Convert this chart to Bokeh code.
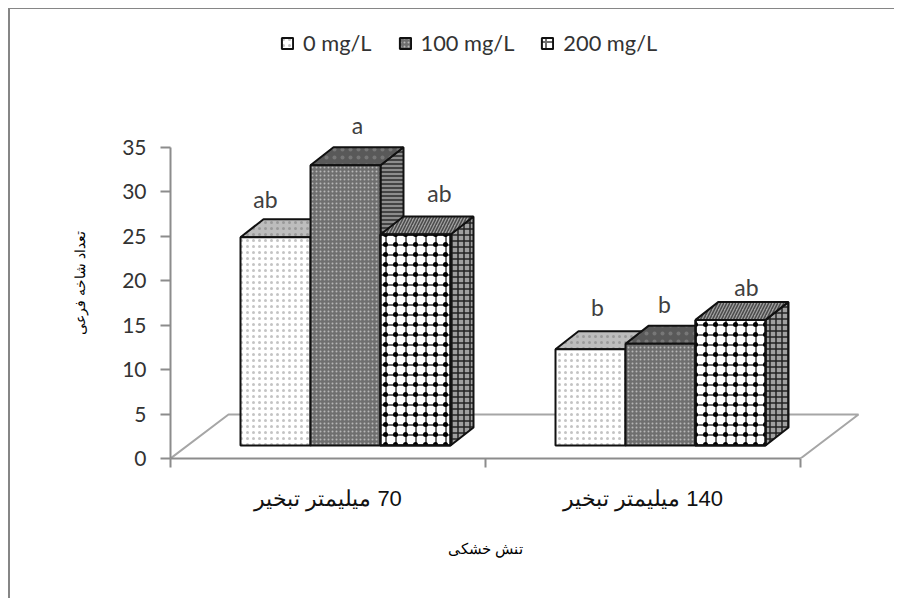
from bokeh.plotting import figure
from bokeh.models import FixedTicker, Range1d, Legend, LegendItem, Label, Title
from bokeh.embed import file_html
from bokeh.resources import INLINE

series = ["0 mg/L", "100 mg/L", "200 mg/L"]
categories = ["\u200f70 میلیمتر تبخیر", "\u200f140 میلیمتر تبخیر"]
y_ticks = [0, 5, 10, 15, 20, 25, 30, 35]
vals_0 = [24.9, 12.3]
vals_100 = [33.0, 12.9]
vals_200 = [25.2, 15.6]
letters_0 = ["ab", "b"]
letters_100 = ["a", "b"]
letters_200 = ["ab", "ab"]
x_title = "تنش خشکی"
y_title = "تعداد شاخه فرعی"

# geometry of the pseudo-3D drawing, in pixels
OX, OY = 10, 9
W, H = 886, 590
FL, FR, FT, FB = 170, 870, 28, 458
PX_X = 315.0          # pixels per category
PX_Y = 311.0 / 35.0   # pixels per y unit
DEPTH_X, DEPTH_Y = 23 / PX_X, 18 / PX_Y
FLOOR = 13 / PX_Y
BAR_W = 70 / PX_X
SHIFT = 17.5 / PX_X

p = figure(width=W, height=H, output_backend="svg", toolbar_location=None,
           x_range=Range1d(0, (FR - FL) / PX_X), y_range=Range1d(0, (FB - FT) / PX_Y),
           min_border_left=FL - OX, min_border_right=OX + W - FR,
           min_border_top=FT - OY, min_border_bottom=OY + H - FB,
           background_fill_color="white", border_fill_color="white",
           outline_line_color=None, margin=(OY, 0, 0, OX),
           styles={"box-shadow": "-2px -1px 0 #868686"})
p.grid.visible = False

AX = "#8c8c8c"
xa = p.xaxis[0]
xa.ticker = FixedTicker(ticks=[0.5, 1.5], minor_ticks=[0, 1, 2])
xa.major_label_overrides = {0.5: categories[0], 1.5: categories[1]}
xa.bounds = (0, 2)
xa.axis_line_color = AX
xa.axis_line_width = 2
xa.major_tick_line_color = None
xa.minor_tick_line_color = AX
xa.minor_tick_line_width = 2
xa.minor_tick_in = 0
xa.minor_tick_out = 9
xa.major_tick_in = 0
xa.major_tick_out = 0
xa.major_label_standoff = 18
xa.major_label_text_font = "Liberation Sans"
xa.major_label_text_font_size = "22px"
xa.major_label_text_color = "#111111"

ya = p.yaxis[0]
ya.ticker = FixedTicker(ticks=y_ticks)
ya.bounds = (0, 35)
ya.axis_line_color = AX
ya.axis_line_width = 2
ya.major_tick_line_color = AX
ya.major_tick_line_width = 2
ya.major_tick_in = 0
ya.major_tick_out = 10
ya.minor_tick_line_color = None
ya.major_label_standoff = 14
ya.major_label_text_font = "Lato"
ya.major_label_text_font_size = "21px"
ya.major_label_text_color = "#333333"

# axis titles sit off the frame's centre, so they are side titles with an offset
p.add_layout(Title(text=x_title, align="left", offset=277, standoff=48,
                   text_font="Liberation Sans", text_font_size="15px", text_color="#000000",
                   text_font_style="normal"), "below")
p.add_layout(Title(text=y_title, align="left", offset=124, standoff=63,
                   text_font="Liberation Sans", text_font_size="14px", text_color="#000000",
                   text_font_style="normal"), "left")

# floor outline
fx = [0, (228 - FL) / PX_X, (858 - FL) / PX_X, 2]
fy = [0, 44 / PX_Y, 44 / PX_Y, 0]
p.line(fx, fy, line_color="#a6a6a6", line_width=2)

front = [
    dict(fill_color="white", hatch_pattern="dot", hatch_color="#c4c4c4", hatch_scale=6, hatch_weight=1),
    dict(fill_color="#6f6f6f", hatch_pattern="dot", hatch_color="#b8b8b8", hatch_scale=4, hatch_weight=1),
    dict(fill_color="white", hatch_pattern="cross", hatch_color="#707070", hatch_scale=10, hatch_weight=2),
]
top = [
    dict(fill_color="#bdbdbd", hatch_pattern="dot", hatch_color="#9a9a9a", hatch_scale=6, hatch_weight=1),
    dict(fill_color="#595959", hatch_pattern="dot", hatch_color="#777777", hatch_scale=8, hatch_weight=1),
    dict(fill_color="#a0a0a0", hatch_pattern="right_diagonal_line", hatch_color="#4a4a4a", hatch_scale=6, hatch_weight=1.5),
]
side = [
    dict(fill_color="#8c8c8c", hatch_pattern="cross", hatch_color="#333333", hatch_scale=5, hatch_weight=1),
    dict(fill_color="#8c8c8c", hatch_pattern="horizontal_line", hatch_color="#2a2a2a", hatch_scale=4, hatch_weight=1.5),
    dict(fill_color="#a0a0a0", hatch_pattern="cross", hatch_color="#222222", hatch_scale=6, hatch_weight=1.5),
]
values = [vals_0, vals_100, vals_200]
letters = [letters_0, letters_100, letters_200]
letter_dx = [[-10, 7], [12, 4], [24, 16]]
letter_dy = [[38, 42], [40, 40], [42, 33]]
legend_renderers = [None, None, None]
LINE = dict(line_color="#111111", line_width=2)

for g in range(2):
    centre = g + 0.5 + SHIFT
    for s in range(3):
        v = values[s][g]
        x0 = centre + (s - 1.5) * BAR_W
        x1 = x0 + BAR_W
        p.patch([x1, x1 + DEPTH_X, x1 + DEPTH_X, x1],
                [FLOOR, FLOOR + DEPTH_Y, v + DEPTH_Y, v], **LINE, **side[s])
        p.patch([x0, x0 + DEPTH_X, x1 + DEPTH_X, x1],
                [v, v + DEPTH_Y, v + DEPTH_Y, v], **LINE, **top[s])
        r = p.quad(left=x0, right=x1, bottom=FLOOR, top=v, **LINE, **front[s])
        if s == 2:
            p.quad(left=x0, right=x1, bottom=FLOOR, top=v, fill_alpha=0, **LINE,
                   hatch_pattern="dot", hatch_color="black", hatch_scale=10, hatch_weight=1)
        legend_renderers[s] = r
        p.add_layout(Label(x=x0 + BAR_W / 2 + letter_dx[s][g] / PX_X, y=v + letter_dy[s][g] / PX_Y,
                           text=letters[s][g], text_font="Lato", text_font_size="23px",
                           text_color="#404040", text_align="center", text_baseline="middle"))

legend = Legend(items=[LegendItem(label=series[i], renderers=[legend_renderers[i]]) for i in range(3)],
                orientation="horizontal", location=(280 - FL, FB - 56),
                glyph_width=14, glyph_height=14, label_standoff=9, spacing=26, padding=4, margin=0,
                background_fill_alpha=0, border_line_color=None,
                label_text_font="Lato", label_text_font_size="21.8px", label_text_color="#333333")
p.add_layout(legend)

open("out.html", "w").write(file_html(p, INLINE))
